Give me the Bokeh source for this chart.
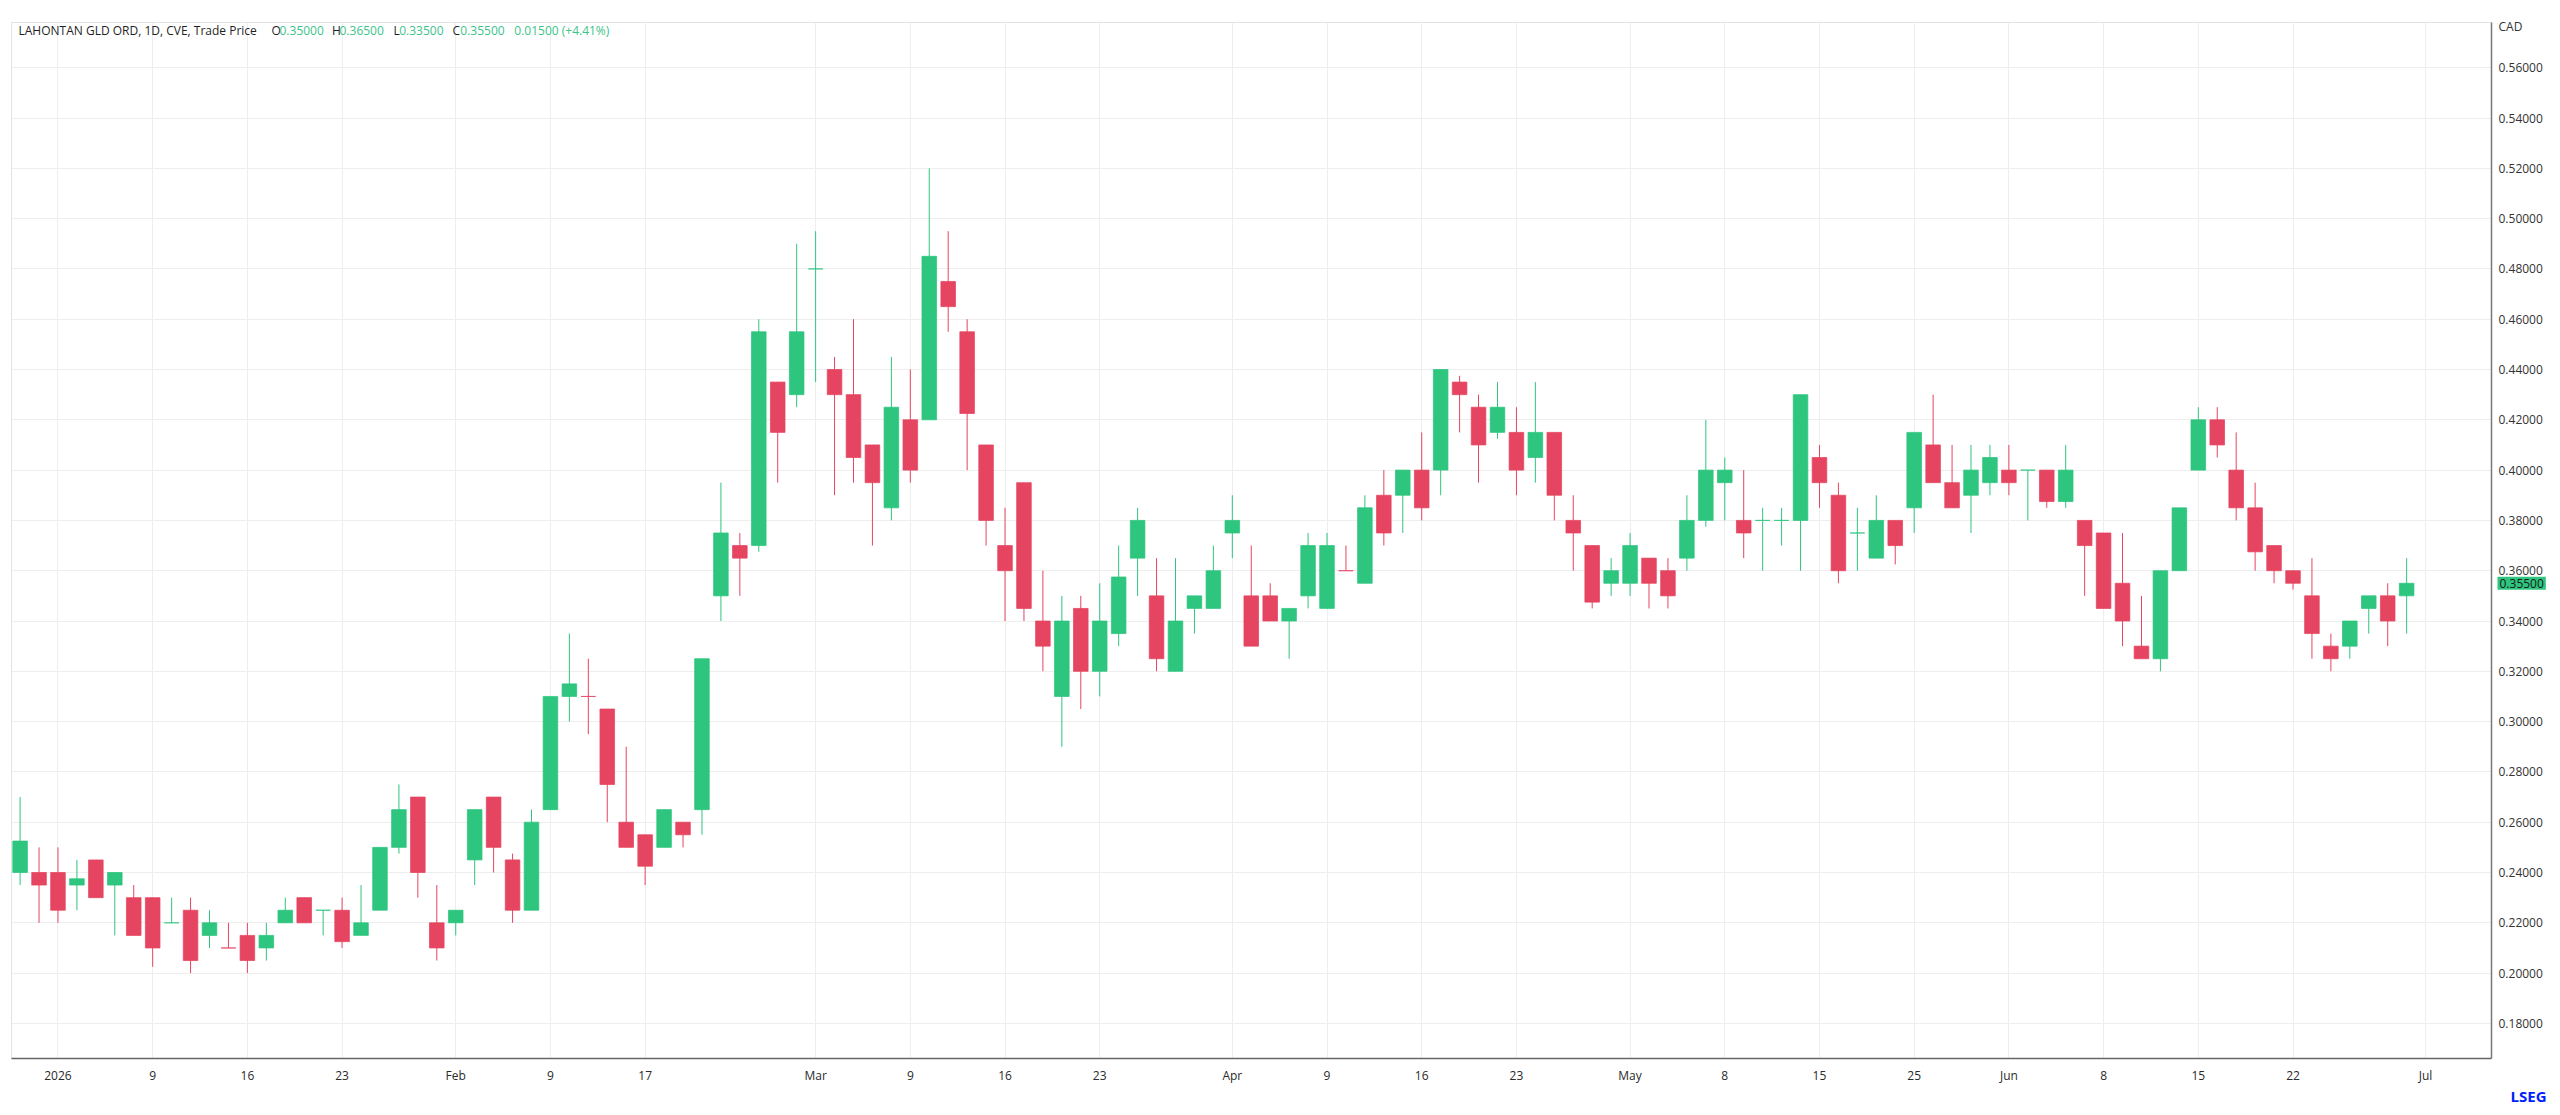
import pandas as pd
from bokeh.plotting import figure
from bokeh.models import ColumnDataSource, FixedTicker, PrintfTickFormatter, Range1d, Label
from bokeh.embed import file_html
from bokeh.resources import INLINE

# ---------------- data ----------------
opens = [0.240, 0.240, 0.240, 0.235, 0.245, 0.235, 0.230, 0.230, 0.220, 0.225,
         0.215, 0.210, 0.215, 0.210, 0.220, 0.230, 0.225, 0.225, 0.215, 0.225,
         0.250, 0.270, 0.220, 0.220, 0.245, 0.270, 0.245, 0.225, 0.265, 0.310,
         0.310, 0.305, 0.260, 0.255, 0.250, 0.260, 0.265, 0.350, 0.370, 0.370,
         0.435, 0.430, 0.480, 0.440, 0.430, 0.410, 0.385, 0.420, 0.420, 0.475,
         0.455, 0.410, 0.370, 0.395, 0.340, 0.310, 0.345, 0.320, 0.335, 0.365,
         0.350, 0.320, 0.345, 0.345, 0.375, 0.350, 0.350, 0.340, 0.350, 0.345,
         0.360, 0.355, 0.390, 0.390, 0.400, 0.400, 0.435, 0.425, 0.415, 0.415,
         0.405, 0.415, 0.380, 0.370, 0.355, 0.355, 0.365, 0.360, 0.365, 0.380,
         0.395, 0.380, 0.380, 0.380, 0.380, 0.405, 0.390, 0.375, 0.365, 0.380,
         0.385, 0.410, 0.395, 0.390, 0.395, 0.400, 0.400, 0.400, 0.3875, 0.380,
         0.375, 0.355, 0.330, 0.325, 0.360, 0.400, 0.420, 0.400, 0.385, 0.370,
         0.360, 0.350, 0.330, 0.330, 0.345, 0.350, 0.350]
highs = [0.270, 0.250, 0.250, 0.245, 0.245, 0.240, 0.235, 0.230, 0.230, 0.230,
         0.225, 0.220, 0.220, 0.220, 0.230, 0.230, 0.225, 0.230, 0.235, 0.250,
         0.275, 0.270, 0.235, 0.225, 0.265, 0.270, 0.2475, 0.265, 0.310, 0.335,
         0.325, 0.305, 0.290, 0.255, 0.265, 0.260, 0.325, 0.395, 0.375, 0.460,
         0.435, 0.490, 0.495, 0.445, 0.460, 0.410, 0.445, 0.440, 0.520, 0.495,
         0.460, 0.410, 0.385, 0.395, 0.360, 0.350, 0.350, 0.355, 0.370, 0.385,
         0.365, 0.365, 0.350, 0.370, 0.390, 0.370, 0.355, 0.345, 0.375, 0.375,
         0.370, 0.390, 0.400, 0.400, 0.415, 0.440, 0.4375, 0.430, 0.435, 0.425,
         0.435, 0.415, 0.390, 0.370, 0.365, 0.375, 0.365, 0.365, 0.390, 0.420,
         0.405, 0.400, 0.385, 0.385, 0.430, 0.410, 0.395, 0.385, 0.390, 0.380,
         0.415, 0.430, 0.410, 0.410, 0.410, 0.410, 0.400, 0.400, 0.410, 0.380,
         0.375, 0.375, 0.350, 0.360, 0.385, 0.425, 0.425, 0.415, 0.395, 0.370,
         0.360, 0.365, 0.335, 0.340, 0.350, 0.355, 0.365]
lows = [0.235, 0.220, 0.220, 0.225, 0.230, 0.215, 0.215, 0.2025, 0.220, 0.200,
        0.210, 0.210, 0.200, 0.205, 0.220, 0.220, 0.215, 0.210, 0.215, 0.225,
        0.2475, 0.230, 0.205, 0.215, 0.235, 0.240, 0.220, 0.225, 0.265, 0.300,
        0.295, 0.260, 0.250, 0.235, 0.250, 0.250, 0.255, 0.340, 0.350, 0.3675,
        0.395, 0.425, 0.435, 0.390, 0.395, 0.370, 0.380, 0.395, 0.420, 0.455,
        0.400, 0.370, 0.340, 0.340, 0.320, 0.290, 0.305, 0.310, 0.330, 0.350,
        0.320, 0.320, 0.335, 0.345, 0.365, 0.330, 0.340, 0.325, 0.345, 0.345,
        0.360, 0.355, 0.370, 0.375, 0.380, 0.390, 0.415, 0.395, 0.4125, 0.390,
        0.395, 0.380, 0.360, 0.345, 0.350, 0.350, 0.345, 0.345, 0.360, 0.3775,
        0.380, 0.365, 0.360, 0.370, 0.360, 0.385, 0.355, 0.360, 0.365, 0.3625,
        0.375, 0.395, 0.385, 0.375, 0.390, 0.390, 0.380, 0.385, 0.385, 0.350,
        0.345, 0.330, 0.325, 0.320, 0.360, 0.400, 0.405, 0.380, 0.360, 0.355,
        0.3525, 0.325, 0.320, 0.325, 0.335, 0.330, 0.335]
closes = [0.2525, 0.235, 0.225, 0.2375, 0.230, 0.240, 0.215, 0.210, 0.220, 0.205,
          0.220, 0.210, 0.205, 0.215, 0.225, 0.220, 0.225, 0.2125, 0.220, 0.250,
          0.265, 0.240, 0.210, 0.225, 0.265, 0.250, 0.225, 0.260, 0.310, 0.315,
          0.310, 0.275, 0.250, 0.2425, 0.265, 0.255, 0.325, 0.375, 0.365, 0.455,
          0.415, 0.455, 0.480, 0.430, 0.405, 0.395, 0.425, 0.400, 0.485, 0.465,
          0.4225, 0.380, 0.360, 0.345, 0.330, 0.340, 0.320, 0.340, 0.3575, 0.380,
          0.325, 0.340, 0.350, 0.360, 0.380, 0.330, 0.340, 0.345, 0.370, 0.370,
          0.360, 0.385, 0.375, 0.400, 0.385, 0.440, 0.430, 0.410, 0.425, 0.400,
          0.415, 0.390, 0.375, 0.3475, 0.360, 0.370, 0.355, 0.350, 0.380, 0.400,
          0.400, 0.375, 0.380, 0.380, 0.430, 0.395, 0.360, 0.375, 0.380, 0.370,
          0.415, 0.395, 0.385, 0.400, 0.405, 0.395, 0.400, 0.3875, 0.400, 0.370,
          0.345, 0.340, 0.325, 0.360, 0.385, 0.420, 0.410, 0.385, 0.3675, 0.360,
          0.355, 0.335, 0.325, 0.340, 0.350, 0.340, 0.355]

first_day = "2025-12-30"
holidays = ["2026-01-01", "2026-02-16", "2026-04-03", "2026-05-18", "2026-07-01"]
tick_dates = ["2026-01-02", "2026-01-09", "2026-01-16", "2026-01-23", "2026-02-02",
              "2026-02-09", "2026-02-17", "2026-03-02", "2026-03-09", "2026-03-16",
              "2026-03-23", "2026-04-01", "2026-04-09", "2026-04-16", "2026-04-23",
              "2026-05-01", "2026-05-08", "2026-05-15", "2026-05-25", "2026-06-01",
              "2026-06-08", "2026-06-15", "2026-06-22", "2026-07-02"]
tick_labels = ["2026", "9", "16", "23", "Feb", "9", "17", "Mar", "9", "16", "23",
               "Apr", "9", "16", "23", "May", "8", "15", "25", "Jun", "8", "15",
               "22", "Jul"]
price_ticks = [0.18, 0.20, 0.22, 0.24, 0.26, 0.28, 0.30, 0.32, 0.34, 0.36, 0.38,
               0.40, 0.42, 0.44, 0.46, 0.48, 0.50, 0.52, 0.54, 0.56]

title_text = "LAHONTAN GLD ORD, 1D, CVE, Trade Price"
currency = "CAD"
brand = "LSEG"

# ---------------- layout / style constants ----------------
GREEN = "#2ec57f"
RED = "#e54560"
VAL_GREEN = "#3cc48a"
FONT = "Open Sans"

W, H = 2552, 1106
FRAME_L, FRAME_R, FRAME_T, FRAME_B = 11, 2491, 22, 1058   # canvas pixels
PX_PER_UNIT = 2515.0        # vertical pixels per 1.0 of price
REF_PRICE, REF_PX = 0.42, 419.3
X_LO, X_HI = -0.454, 130.48


def px_to_price(py):
    return REF_PRICE + (REF_PX - py) / PX_PER_UNIT


y_lo, y_hi = px_to_price(FRAME_B), px_to_price(FRAME_T)
cad_tick = px_to_price(26)

# ---------------- derived ----------------
cal = pd.bdate_range(first_day, "2026-07-31", freq="C", holidays=holidays)
cal_index = {d.strftime("%Y-%m-%d"): i for i, d in enumerate(cal)}
tick_pos = [cal_index[d] for d in tick_dates]

n = len(opens)
xs = list(range(n))
colors = []
for i in range(n):
    o, c = opens[i], closes[i]
    if c > o:
        colors.append(GREEN)
    elif c < o:
        colors.append(RED)
    else:
        prev = closes[i - 1] if i > 0 else c
        colors.append(RED if c < prev else GREEN)

src = ColumnDataSource(dict(
    x=xs, o=opens, h=highs, l=lows, c=closes,
    top=[max(a, b) for a, b in zip(opens, closes)],
    bottom=[min(a, b) for a, b in zip(opens, closes)],
    color=colors,
))

p = figure(width=W, height=H,
           x_range=Range1d(X_LO, X_HI), y_range=Range1d(y_lo, y_hi),
           y_axis_location="right", x_axis_location="below",
           output_backend="svg", toolbar_location=None,
           min_border_left=FRAME_L, min_border_right=W - FRAME_R,
           min_border_top=FRAME_T, min_border_bottom=H - FRAME_B)

p.background_fill_color = "white"
p.border_fill_color = "white"
p.outline_line_color = "#e3e3e3"

# grids
p.xgrid.ticker = FixedTicker(ticks=tick_pos)
p.ygrid.ticker = FixedTicker(ticks=price_ticks)
p.xgrid.grid_line_color = "#eeeeee"
p.ygrid.grid_line_color = "#eeeeee"

# x axis
xa = p.xaxis[0]
xa.ticker = FixedTicker(ticks=tick_pos)
xa.major_label_overrides = {pos: lab for pos, lab in zip(tick_pos, tick_labels)}
xa.major_tick_line_color = None
xa.minor_tick_line_color = None
xa.major_tick_out = 0
xa.major_tick_in = 0
xa.major_label_standoff = 8
xa.axis_line_color = "#666666"
xa.axis_line_width = 1.5
xa.major_label_text_font = FONT
xa.major_label_text_font_size = "12px"
xa.major_label_text_color = "#2a2a2a"

# y axis (right); the currency code sits at the top of the price scale
ya = p.yaxis[0]
ya.ticker = FixedTicker(ticks=price_ticks + [cad_tick])
ya.formatter = PrintfTickFormatter(format="%.5f")
ya.major_label_overrides = {cad_tick: currency}
ya.major_tick_line_color = None
ya.minor_tick_line_color = None
ya.major_tick_out = 0
ya.major_tick_in = 0
ya.major_label_standoff = 7
ya.axis_line_color = "#777777"
ya.axis_line_width = 1.5
ya.major_label_text_font = FONT
ya.major_label_text_font_size = "12px"
ya.major_label_text_color = "#333333"

# candles
p.segment(x0="x", y0="l", x1="x", y1="h", source=src, line_color="color", line_width=1)
p.vbar(x="x", width=0.77, top="top", bottom="bottom", source=src,
       fill_color="color", line_color="color", line_width=1, line_alpha=0.75)

# header (inside frame, top-left)
hdr_y = FRAME_B - 30
last_o, last_h, last_l, last_c = opens[-1], highs[-1], lows[-1], closes[-1]
chg = last_c - closes[-2]
pct = chg / closes[-2] * 100
segments = [
    (title_text, 7, "#1f1f1f"),
    ("O", 260, "#1f1f1f"), (f"{last_o:.5f}", 268, VAL_GREEN),
    ("H", 320.5, "#1f1f1f"), (f"{last_h:.5f}", 328, VAL_GREEN),
    ("L", 382, "#1f1f1f"), (f"{last_l:.5f}", 387.7, VAL_GREEN),
    ("C", 441, "#1f1f1f"), (f"{last_c:.5f}", 448.8, VAL_GREEN),
    (f"{chg:.5f} ({pct:+.2f}%)", 502.8, VAL_GREEN),
]
for txt, sx, col in segments:
    p.add_layout(Label(x=sx, y=hdr_y, x_units="screen", y_units="screen", text=txt,
                       text_font=FONT, text_font_size="12px", text_color=col,
                       text_baseline="middle", text_align="left"))

# last price tag on the price scale (side-panel annotation -> not clipped to frame)
p.add_layout(Label(x=FRAME_R + 6, y=last_c, x_units="canvas", y_units="data",
                   text=f"{last_c:.5f}", text_font=FONT, text_font_size="12px",
                   text_color="#1a1a1a", text_baseline="middle", text_align="left",
                   background_fill_color=GREEN, padding=2), "above")

# brand mark (bottom right)
p.add_layout(Label(x=2510, y=1095, x_units="canvas", y_units="canvas", text=brand,
                   text_font=FONT, text_font_size="15px", text_font_style="bold",
                   text_color="#001eff", text_baseline="middle", text_align="left"), "below")

open("out.html", "w").write(file_html(p, INLINE))
